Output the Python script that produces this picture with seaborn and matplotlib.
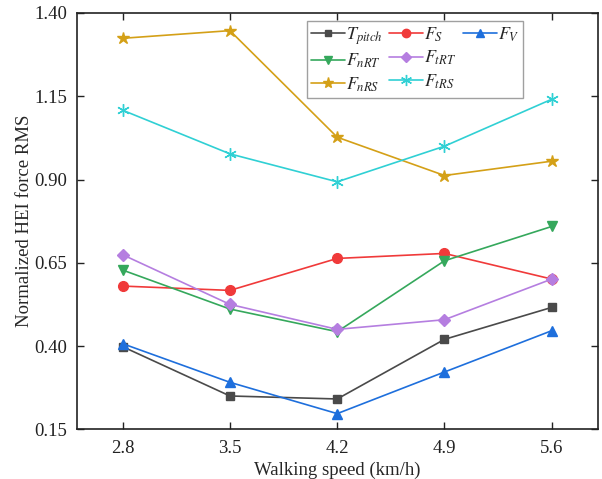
import matplotlib
matplotlib.use('Agg')
import matplotlib.pyplot as plt
import seaborn as sns
import pandas as pd
from matplotlib.lines import Line2D

# velocidades de caminhada (km/h)
speeds = [2.8, 3.5, 4.2, 4.9, 5.6]

# valores RMS normalizados
t_pitch = [0.398, 0.250, 0.241, 0.420, 0.516]
f_s = [0.580, 0.567, 0.663, 0.678, 0.601]
f_v = [0.407, 0.291, 0.197, 0.322, 0.446]
f_nrt = [0.628, 0.511, 0.443, 0.656, 0.759]
f_trt = [0.674, 0.525, 0.450, 0.479, 0.601]
f_nrs = [1.324, 1.347, 1.027, 0.912, 0.955]
f_trs = [1.108, 0.977, 0.893, 1.000, 1.141]

labels = [r'$T_{pitch}$', r'$F_S$', r'$F_V$', r'$F_{nRT}$',
          r'$F_{tRT}$', r'$F_{nRS}$', r'$F_{tRS}$']
yticks = [0.15, 0.40, 0.65, 0.90, 1.15, 1.40]

sns.set_style('ticks')
plt.rcParams['font.family'] = ['Liberation Serif', 'DejaVu Serif']
plt.rcParams['mathtext.fontset'] = 'stix'
plt.rcParams['xtick.direction'] = 'in'
plt.rcParams['ytick.direction'] = 'in'

series = [
    (t_pitch, '#4a4a4a', 's', 6),
    (f_s, '#f03a3a', 'o', 7),
    (f_v, '#1e6fdc', '^', 7),
    (f_nrt, '#35a85c', 'v', 7),
    (f_trt, '#b57ee0', 'D', 6),
    (f_nrs, '#d4a017', '*', 9),
    (f_trs, '#30d0d4', (6, 2, 0), 9),
]

fig = plt.figure(figsize=(6.02, 4.79), dpi=100)
ax = fig.add_axes([0.1274, 0.1038, 0.8655, 0.8691])

handles = []
for (vals, cor, mk, ms), lab in zip(series, labels):
    df = pd.DataFrame({'x': speeds, 'y': vals})
    sns.lineplot(data=df, x='x', y='y', ax=ax, color=cor, marker=mk,
                 markersize=ms, markeredgecolor=cor, markeredgewidth=1,
                 linewidth=1.2)
    handles.append(Line2D([], [], color=cor, marker=mk, markersize=ms - 1,
                          markeredgecolor=cor, linewidth=1.2, label=lab))

vazio = Line2D([], [], linestyle='none', label=' ')
ordem = [handles[0], handles[3], handles[5],
         handles[1], handles[4], handles[6],
         handles[2], vazio, vazio]
leg = ax.legend(handles=ordem, labels=[h.get_label() for h in ordem],
                ncol=3, loc='upper left', bbox_to_anchor=(0.442, 0.98),
                fontsize=13, frameon=True, fancybox=False, edgecolor='#888888',
                handlelength=1.9, handletextpad=0.05, columnspacing=0.35,
                labelspacing=0.3, borderpad=0.2, borderaxespad=0)
leg.get_frame().set_linewidth(1.0)

ax.set_xlim(2.5, 5.9)
ax.set_ylim(0.15, 1.40)
ax.set_xticks(speeds)
ax.set_xticklabels([str(s) for s in speeds])
ax.set_yticks(yticks)
ax.set_yticklabels(['%.2f' % v for v in yticks])
ax.tick_params(axis='both', labelsize=13.5, top=True, right=True,
               length=5, width=1, colors='#222222')
ax.tick_params(axis='x', pad=8)
ax.tick_params(axis='y', pad=7)
ax.set_xlabel('Walking speed (km/h)', fontsize=13.5, labelpad=3)
ax.set_ylabel('Normalized HEI force RMS', fontsize=13.5, labelpad=1)
for s in ax.spines.values():
    s.set_visible(True)
    s.set_linewidth(1.2)
    s.set_color('#222222')

fig.savefig('out.png', dpi=100)
